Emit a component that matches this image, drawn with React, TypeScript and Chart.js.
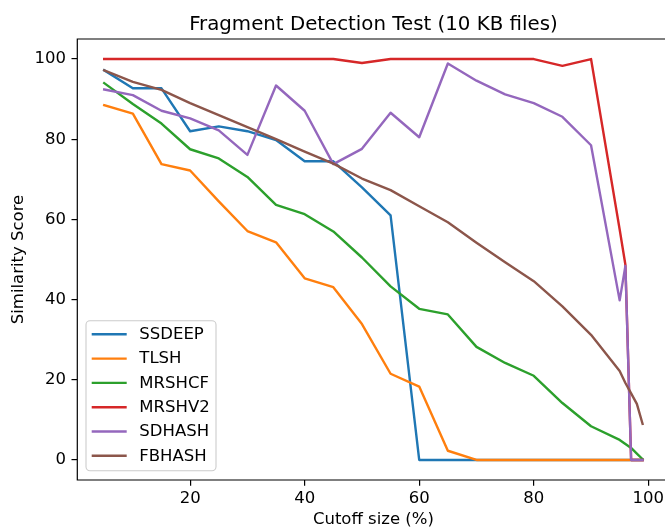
import { useEffect, useRef } from "react";
import { Chart, registerables } from "chart.js";

Chart.register(...registerables);

const cutoffs = [5, 10, 15, 20, 25, 30, 35, 40, 45, 50, 55, 60, 65, 70, 75, 80, 85, 90, 95, 96, 97, 98, 99];

const ssdeep = [97.2, 92.7, 92.7, 82.0, 83.2, 82.0, 79.8, 74.5, 74.5, 68.0, 61.0, 0, 0, 0, 0, 0, 0, 0, 0, 0, 0, 0, 0];
const tlsh = [88.5, 86.4, 73.8, 72.2, 64.5, 57.1, 54.3, 45.3, 43.1, 33.9, 21.5, 18.3, 2.3, 0, 0, 0, 0, 0, 0, 0, 0, 0, 0];
const mrshcf = [94.0, 88.8, 83.9, 77.5, 75.2, 70.6, 63.6, 61.3, 57.0, 50.5, 43.3, 37.7, 36.3, 28.2, 24.2, 21.0, 14.2, 8.4, 5.0, 4.0, 3.0, 1.6, 0.2];
const mrshv2 = [100, 100, 100, 100, 100, 100, 100, 100, 100, 99.0, 100, 100, 100, 100, 100, 100, 98.3, 100, 57.5, 48.7, 0, 0, 0];
const sdhash = [92.4, 91.0, 87.1, 85.2, 82.2, 76.1, 93.4, 87.1, 73.8, 77.6, 86.6, 80.5, 98.9, 94.6, 91.2, 89.0, 85.6, 78.5, 39.8, 48.4, 0, 0, 0];
const fbhash = [97.2, 94.3, 92.3, 89.0, 86.0, 83.0, 80.0, 76.9, 73.9, 70.2, 67.3, 63.3, 59.3, 54.2, 49.3, 44.6, 38.3, 31.2, 22.2, 19.2, 16.6, 14.0, 9.0];

const seriesNames = ["SSDEEP", "TLSH", "MRSHCF", "MRSHV2", "SDHASH", "FBHASH"];
const seriesValues = [ssdeep, tlsh, mrshcf, mrshv2, sdhash, fbhash];
const seriesColors = ["#1f77b4", "#ff7f0e", "#2ca02c", "#d62728", "#9467bd", "#8c564b"];

const xTicks = [20, 40, 60, 80, 100];
const yTicks = [0, 20, 40, 60, 80, 100];

const TITLE = "Fragment Detection Test (10 KB files)";
const X_LABEL = "Cutoff size (%)";
const Y_LABEL = "Similarity Score";

const FONT = "'DejaVu Sans', sans-serif";
const W = 675;
const H = 528;

const framePlugin = {
  id: "mplFrame",
  afterDatasetsDraw(chart: any) {
    const { ctx, chartArea } = chart;
    const { left, right, top, bottom } = chartArea;
    ctx.save();
    ctx.strokeStyle = "#000";
    ctx.lineWidth = 1.2;
    ctx.beginPath();
    ctx.rect(left, top, right - left, bottom - top);
    ctx.stroke();
    ctx.restore();
  },
  afterDraw(chart: any) {
    const { ctx, chartArea } = chart;
    const { left, right, top, bottom } = chartArea;
    ctx.save();
    // title
    ctx.fillStyle = "#000";
    ctx.font = `19.8px ${FONT}`;
    ctx.textAlign = "center";
    ctx.textBaseline = "alphabetic";
    ctx.fillText(TITLE, (left + right) / 2, top - 9.5);

    // legend
    const bx = left + 8.7;
    const bw = 130;
    const bh = 150;
    const by = bottom - 9.3 - bh;
    ctx.beginPath();
    ctx.roundRect(bx, by, bw, bh, 4);
    ctx.fillStyle = "rgba(255,255,255,0.8)";
    ctx.fill();
    ctx.strokeStyle = "#cccccc";
    ctx.lineWidth = 1.1;
    ctx.stroke();

    const ds = chart.data.datasets;
    ctx.font = `16.5px ${FONT}`;
    ctx.textAlign = "left";
    ctx.textBaseline = "middle";
    for (let i = 0; i < ds.length; i++) {
      const cy = by + 13.6 + i * 24.3;
      ctx.beginPath();
      ctx.strokeStyle = ds[i].borderColor;
      ctx.lineWidth = 2.4;
      ctx.lineCap = "butt";
      ctx.moveTo(bx + 5.7, cy);
      ctx.lineTo(bx + 40.7, cy);
      ctx.stroke();
      ctx.fillStyle = "#000";
      ctx.fillText(ds[i].label, bx + 53.3, cy + 0.5);
    }
    ctx.restore();
  },
};

export default function App() {
  const ref = useRef<HTMLCanvasElement | null>(null);

  useEffect(() => {
    if (!ref.current) return;
    const chart = new Chart(ref.current, {
      type: "line",
      data: {
        datasets: seriesNames.map((name, i) => ({
          label: name,
          data: cutoffs.map((x, j) => ({ x, y: seriesValues[i][j] })),
          borderColor: seriesColors[i],
          backgroundColor: seriesColors[i],
          borderWidth: 2.4,
          pointRadius: 0,
          pointHoverRadius: 0,
          tension: 0,
          fill: false,
          borderJoinStyle: "round",
          borderCapStyle: "square",
          order: -i,
        })),
      },
      options: {
        animation: false,
        responsive: false,
        devicePixelRatio: 1,
        events: [],
        layout: { padding: { left: 0, top: 39, right: 5.5, bottom: 0 } },
        plugins: {
          legend: { display: false },
          title: { display: false },
          tooltip: { enabled: false },
        },
        scales: {
          x: {
            type: "linear",
            min: 0.3,
            max: 103.7,
            afterBuildTicks: (s: any) => {
              s.ticks = xTicks.map((v) => ({ value: v }));
            },
            afterFit: (s: any) => {
              s.height = 48;
            },
            border: { display: false },
            grid: {
              display: true,
              drawOnChartArea: false,
              drawTicks: true,
              tickLength: 5.8,
              color: "#000",
              lineWidth: 1.2,
            },
            ticks: {
              autoSkip: false,
              maxRotation: 0,
              padding: 3.5,
              color: "#000",
              font: { family: FONT, size: 16.5 },
            },
            title: {
              display: true,
              text: X_LABEL,
              color: "#000",
              font: { family: FONT, size: 16.5, lineHeight: 1 },
              padding: { top: 0, bottom: 0 },
            },
          },
          y: {
            type: "linear",
            min: -5,
            max: 105,
            afterBuildTicks: (s: any) => {
              s.ticks = yTicks.map((v) => ({ value: v }));
            },
            afterFit: (s: any) => {
              s.width = 77.3;
            },
            border: { display: false },
            grid: {
              display: true,
              drawOnChartArea: false,
              drawTicks: true,
              tickLength: 5.8,
              color: "#000",
              lineWidth: 1.2,
            },
            ticks: {
              autoSkip: false,
              padding: 5.5,
              color: "#000",
              font: { family: FONT, size: 16.5 },
            },
            title: {
              display: true,
              text: Y_LABEL,
              color: "#000",
              font: { family: FONT, size: 16.5, lineHeight: 1 },
              padding: { top: 10.5, bottom: 0 },
            },
          },
        },
      },
      plugins: [framePlugin],
    } as any);
    return () => chart.destroy();
  }, []);

  return (
    <div style={{ position: "fixed", left: 0, top: 0, width: 665, height: 528, overflow: "hidden", background: "#fff" }}>
      <canvas ref={ref} width={W} height={H} style={{ display: "block", width: W, height: H }} />
    </div>
  );
}
